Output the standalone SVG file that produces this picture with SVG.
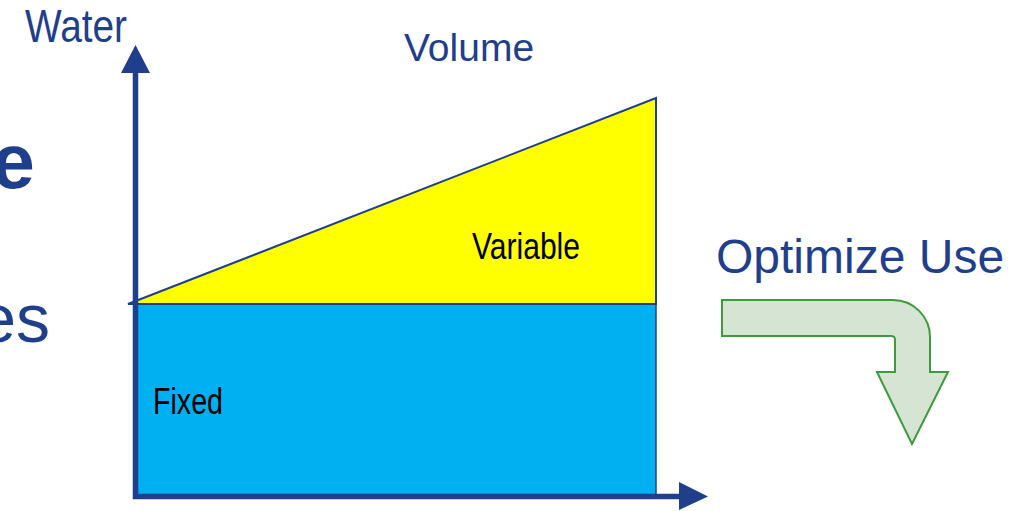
<svg xmlns="http://www.w3.org/2000/svg" width="1025" height="511" viewBox="0 0 1025 511">
<style>
.t{font-family:"Liberation Sans",Arial,sans-serif}
.blue{fill:#1f3f8c}
.axis{stroke:#1f3f8c;stroke-width:5.5;fill:none}
.head{fill:#1f3f8c}
</style>
<rect width="1025" height="511" fill="#ffffff"/>
<text class="t blue" x="35" y="188" font-size="78" font-weight="bold" text-anchor="end">e</text>
<text class="t blue" x="50" y="342" font-size="68" text-anchor="end">es</text>
<g id="fixed">
<rect x="135" y="304" width="521" height="191" fill="#00b0f0" stroke="#1f3f8c" stroke-width="1.5"/>
<text class="t" x="153" y="414" font-size="36" fill="#000" textLength="70" lengthAdjust="spacingAndGlyphs">Fixed</text>
</g>
<g id="variable">
<polygon points="128,304 656,98 656,304" fill="#ffff00" stroke="#1f3f8c" stroke-width="2" stroke-linejoin="miter"/>
<text class="t" x="472" y="259" font-size="36" fill="#000" textLength="108" lengthAdjust="spacingAndGlyphs">Variable</text>
</g>
<g id="connectors">
<line class="axis" x1="135.5" y1="70" x2="135.5" y2="499"/>
<polygon class="head" points="121,73 150,73 135.5,45"/>
<line class="axis" x1="133" y1="496.5" x2="682" y2="496.5"/>
<polygon class="head" points="679,482 679,510 708,496.5"/>
</g>
<g id="labels">
<text class="t blue" x="25" y="42" font-size="47" textLength="102" lengthAdjust="spacingAndGlyphs">Water</text>
<text class="t blue" x="404" y="61" font-size="39">Volume</text>
</g>
<g id="optimize">
<text class="t blue" x="716" y="273" font-size="48">Optimize Use</text>
<path d="M722,300 H893 A37,37 0 0 1 930,337 V372 H948 L912,444 L877,372 H895 V340 Q895,336 891,336 H722 Z" fill="#d6e4d4" stroke="#3c9c3c" stroke-width="2" stroke-linejoin="miter"/>
</g>
</svg>
